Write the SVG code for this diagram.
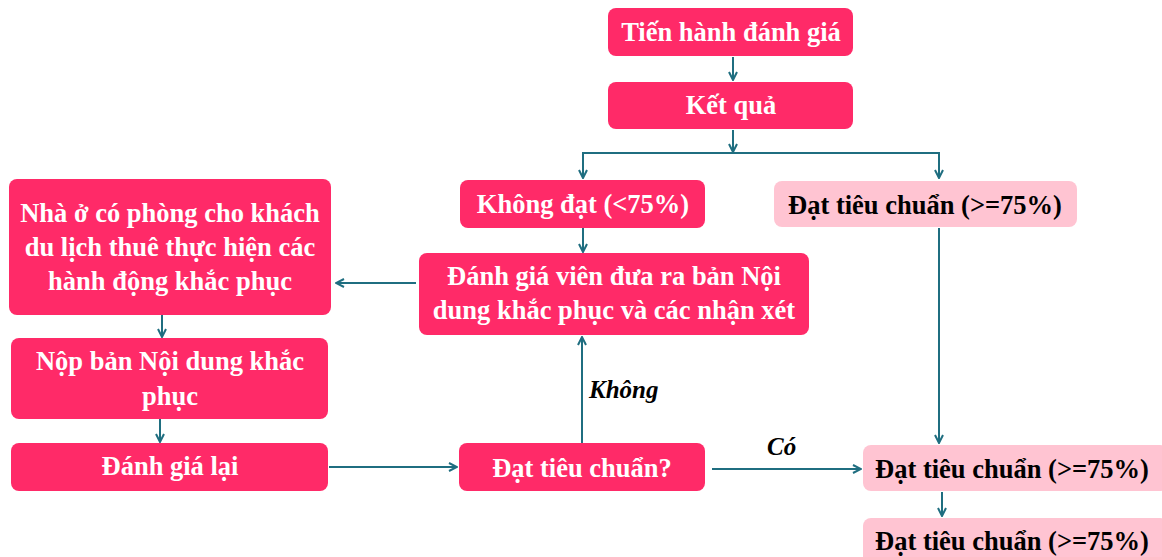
<svg xmlns="http://www.w3.org/2000/svg" width="1162" height="557" viewBox="0 0 1162 557">
<defs>
<style>
.n{fill:#FF2A68;}
.p{fill:#FFC4D2;}
.t{font-family:"Liberation Serif","Times New Roman",serif;font-weight:bold;font-size:26.5px;text-anchor:middle;fill:#FFFFFF;}
.tb{font-family:"Liberation Serif","Times New Roman",serif;font-weight:bold;font-size:26.5px;text-anchor:middle;fill:#000000;}
.lb{font-family:"Liberation Serif","Times New Roman",serif;font-weight:bold;font-style:italic;font-size:25px;fill:#000000;}
.c{fill:none;stroke:#1F6E80;stroke-width:2;}
</style>
<marker id="ah" viewBox="0 0 10 10" refX="9" refY="5" markerWidth="5" markerHeight="5" orient="auto" markerUnits="strokeWidth">
<path d="M1,1 L9,5 L1,9" fill="none" stroke="#1F6E80" stroke-width="2"/>
</marker>
</defs>
<rect width="1162" height="557" fill="#FFFFFF"/>
<g id="connectors">
<line class="c" x1="733" y1="57" x2="733" y2="80" marker-end="url(#ah)"/>
<line class="c" x1="733" y1="130" x2="733" y2="152" marker-end="url(#ah)"/>
<polyline class="c" points="583,178 583,153 939,153 939,178" marker-end="url(#ah)"/>
<line class="c" x1="583" y1="153" x2="583" y2="178" marker-end="url(#ah)"/>
<line class="c" x1="583" y1="228" x2="583" y2="252" marker-end="url(#ah)"/>
<line class="c" x1="416" y1="283" x2="336" y2="283" marker-end="url(#ah)"/>
<line class="c" x1="162" y1="315" x2="162" y2="337" marker-end="url(#ah)"/>
<line class="c" x1="160" y1="419" x2="160" y2="442" marker-end="url(#ah)"/>
<line class="c" x1="329" y1="467" x2="457" y2="467" marker-end="url(#ah)"/>
<line class="c" x1="582" y1="443" x2="582" y2="337" marker-end="url(#ah)"/>
<line class="c" x1="712" y1="469" x2="861" y2="469" marker-end="url(#ah)"/>
<line class="c" x1="939" y1="228" x2="939" y2="443" marker-end="url(#ah)"/>
<line class="c" x1="942" y1="492" x2="942" y2="516" marker-end="url(#ah)"/>
<text class="lb" x="589" y="398">Không</text>
<text class="lb" x="767" y="455">Có</text>
</g>
<g id="n1"><rect class="n" x="608" y="8" width="245" height="48" rx="8"/><text class="t" x="731" y="41">Tiến hành đánh giá</text></g>
<g id="n2"><rect class="n" x="608" y="82" width="245" height="47" rx="8"/><text class="t" x="731" y="114">Kết quả</text></g>
<g id="n3"><rect class="n" x="460" y="180" width="245" height="48" rx="8"/><text class="t" x="583" y="213">Không đạt (&lt;75%)</text></g>
<g id="n4"><rect class="p" x="774" y="181" width="303" height="46" rx="8"/><text class="tb" x="925" y="214">Đạt tiêu chuẩn (&gt;=75%)</text></g>
<g id="n5"><rect class="n" x="419" y="253" width="390" height="82" rx="8"/><text class="t" x="614" y="285">Đánh giá viên đưa ra bản Nội</text><text class="t" x="614" y="319">dung khắc phục và các nhận xét</text></g>
<g id="n6"><rect class="n" x="9" y="179" width="322" height="136" rx="8"/><text class="t" x="170" y="222">Nhà ở có phòng cho khách</text><text class="t" x="170" y="256">du lịch thuê thực hiện các</text><text class="t" x="170" y="290">hành động khắc phục</text></g>
<g id="n7"><rect class="n" x="11" y="338" width="317" height="81" rx="8"/><text class="t" x="170" y="370">Nộp bản Nội dung khắc</text><text class="t" x="170" y="405">phục</text></g>
<g id="n8"><rect class="n" x="11" y="443" width="317" height="48" rx="8"/><text class="t" x="170" y="475">Đánh giá lại</text></g>
<g id="n9"><rect class="n" x="459" y="443" width="246" height="48" rx="8"/><text class="t" x="582" y="477">Đạt tiêu chuẩn?</text></g>
<g id="n10"><rect class="p" x="863" y="445" width="305" height="46" rx="8"/><text class="tb" x="1012" y="478">Đạt tiêu chuẩn (&gt;=75%)</text></g>
<g id="n11"><rect class="p" x="863" y="518" width="305" height="50" rx="8"/><text class="tb" x="1012" y="550">Đạt tiêu chuẩn (&gt;=75%)</text></g>
</svg>
